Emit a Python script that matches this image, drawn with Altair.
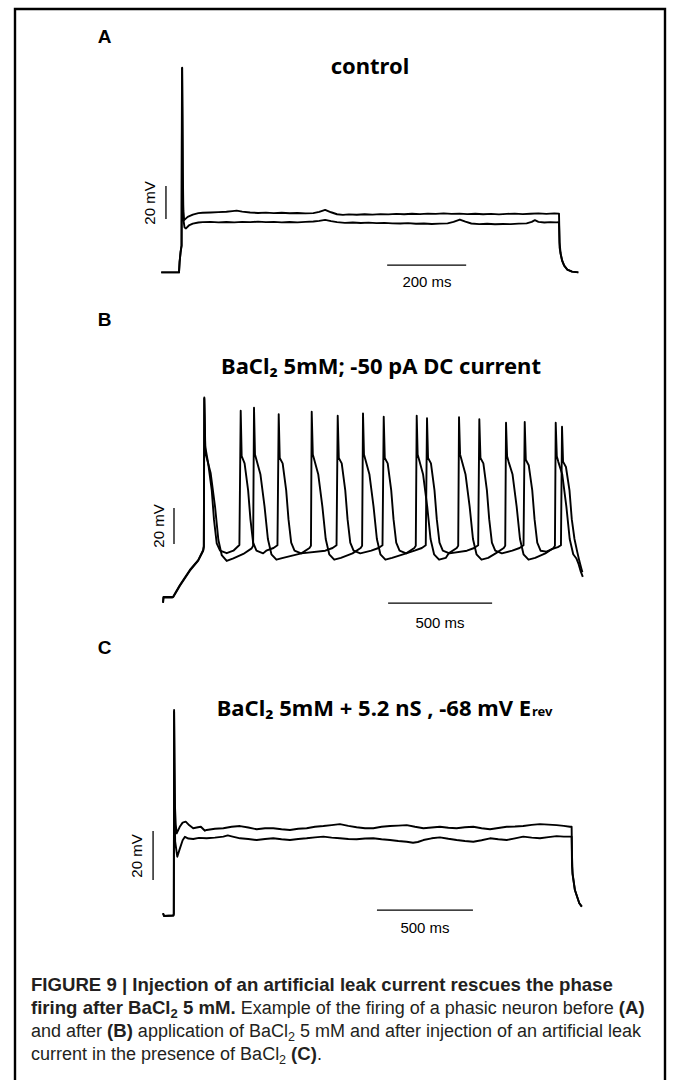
import altair as alt
import pandas as pd

# ---------------- Panel A (control): time in ms, membrane potential in mV ----------------
A1_t = [-45, 0, 1.5, 4, 6.5, 7.4, 8.1, 8.8, 9.8, 11, 13, 15, 22, 35, 49,
        60, 80, 100, 120, 135, 146, 160, 180, 200, 220, 240, 260, 280, 300, 320, 340, 355, 370, 385, 400,
        415, 430, 450, 470, 490, 510, 530, 550, 570, 590, 610, 630, 650, 670, 690, 710, 730, 750, 770, 790,
        810, 830, 850, 870, 890, 910, 930, 950, 962,
        963.5, 966, 970, 975, 983, 995, 1011]
A1_v = [-70.2, -70.2, -64, -58, -54, 10, 53.8, 30, -10, -33, -38.5, -38.1, -36.6, -35.2, -34.3,
        -34.1, -33.9, -33.7, -33.5, -33.1, -32.8, -33.4, -33.9, -34.2, -34.0, -34.3, -34.1, -34.4, -34.2, -34.5, -34.3, -33.6, -32.4, -33.8, -35.0,
        -35.4, -35.1, -35.3, -35.0, -35.2, -34.9, -35.1, -34.8, -35.0, -34.7, -34.9, -34.6, -34.8, -34.5, -34.8, -34.6, -34.9, -34.7, -35.0, -34.8,
        -35.1, -34.8, -34.6, -34.9, -34.7, -34.5, -34.8, -34.5, -34.6,
        -52, -58.5, -63, -66, -68.5, -69.8, -70.2]
A2_t = [-45, 0, 1.5, 4, 6.5, 7.0, 7.7, 8.4, 9.5, 11, 14, 17.7, 25, 35, 49,
        60, 80, 100, 120, 140, 160, 180, 200, 220, 240, 260, 280, 300, 320, 340, 355, 370, 385, 400, 420,
        440, 460, 480, 500, 520, 540, 560, 580, 600, 620, 640, 660, 680, 695, 711, 725, 740, 760, 780, 800,
        820, 840, 860, 880, 893, 901, 910, 925, 940, 955, 962,
        963.5, 966, 970, 975, 983, 995, 1011]
A2_v = [-70.2, -70.2, -64, -58, -54, 10, 53.5, 25, -20, -38, -43, -43.6, -41.8, -40.7, -40.0,
        -39.8, -39.6, -39.9, -39.7, -39.9, -39.6, -39.8, -39.5, -39.8, -39.6, -39.9, -39.7, -39.9, -39.6, -39.4, -39.0, -38.4, -39.2, -39.8, -40.2,
        -40.0, -40.3, -40.1, -40.4, -40.2, -40.5, -40.6, -40.4, -40.8, -40.6, -40.9, -40.7, -40.5, -39.6, -38.2, -39.5, -40.6, -41.0, -40.8, -41.1,
        -40.9, -41.0, -40.7, -40.5, -39.6, -38.6, -39.6, -40.0, -39.8, -39.9, -39.8,
        -55, -59, -63.3, -66.2, -68.6, -69.8, -70.2]
A_bar_t = [527, -33]
A_bar_t2 = [727, -33]
A_bar_v = [-65.8, -37.9]
A_bar_v2 = [-65.8, -17.9]

# ---------------- Panel B (BaCl2 5 mM, -50 pA DC) ----------------
B1_t = [-43, -41, 0, 6, 38, 86, 126, 150, 153, 155.3, 160, 174, 191, 202, 215, 231, 263, 295, 324,
        330.3, 335, 349, 366, 377, 390, 406, 438, 453, 488, 507,
        513.0, 518, 532, 549, 560, 573, 589, 621, 737, 772, 791,
        796.7, 802, 816, 833, 844, 857, 873, 905, 958, 993, 1012,
        1017.9, 1023, 1037, 1054, 1065, 1078, 1094, 1126, 1166, 1201, 1220,
        1226.0, 1231, 1245, 1262, 1273, 1286, 1302, 1334, 1418, 1453, 1472,
        1477.5, 1483, 1497, 1514, 1525, 1538, 1554, 1586, 1636, 1671, 1690,
        1695.8, 1701, 1715, 1732, 1743, 1756, 1772, 1800, 1830, 1855, 1870,
        1875.1, 1880, 1894, 1911, 1922, 1935, 1948, 1958, 1967, 1973]
B1_v = [-85.3, -82.2, -82.2, -82.0, -75.6, -67.2, -61.7, -56.1, -54.0, 28.7, 1.3, -8.0, -22.8, -39.4, -52.4, -56.5, -57.9, -56.5, -53.3,
        21.3, -4, -8, -23, -39, -52, -56.5, -58, -56.5, -55, -53.5,
        19.3, -5, -8, -23, -39, -52, -56.5, -58, -56.5, -55, -53.5,
        18.5, -5, -8, -23, -39, -52, -56.5, -58, -56.5, -55, -53.5,
        17.9, -5, -8, -23, -39, -52, -56.5, -58, -56.5, -55, -53.5,
        17.1, -5, -8, -23, -39, -52, -56.5, -58, -56.5, -55, -53.5,
        16.5, -5, -8, -23, -39, -52, -56.5, -58, -56.5, -55, -53.5,
        15.0, -6, -9, -23, -39, -52, -56.5, -57, -55.5, -54.5, -53.5,
        12.4, -7, -10, -23, -39, -50, -57, -62, -66, -68.5]
B2_t = [-43, -41, 0, 6, 38, 86, 126, 150, 153, 155.3, 160, 167, 186, 207, 223, 239, 263, 295, 343, 383, 390,
        394.3, 399, 406, 425, 445, 461, 478, 502, 534, 622, 661, 668,
        671.7, 677, 684, 703, 723, 739, 756, 780, 812, 868, 907, 914,
        918.3, 923, 930, 949, 969, 985, 1002, 1026, 1058, 1126, 1165, 1172,
        1176.5, 1181, 1188, 1207, 1227, 1243, 1260, 1284, 1316, 1330, 1369, 1376,
        1379.9, 1385, 1392, 1411, 1431, 1447, 1464, 1488, 1520, 1556, 1595, 1602,
        1605.9, 1611, 1618, 1637, 1657, 1673, 1690, 1714, 1746, 1795, 1834, 1841,
        1844.8, 1850, 1857, 1876, 1896, 1912, 1929, 1945, 1955, 1965, 1975]
B2_v = [-85.5, -82.5, -82.5, -82.3, -76, -67.6, -62, -56.5, -54.3, 28.0, -2, -5, -13.5, -32.1, -50.6, -58.9, -62.2, -60.7, -58.3, -55.2, -53.8,
        22.9, -3, -6, -14, -32, -50, -58.5, -61.5, -60.5, -58, -55, -53.8,
        20.7, -3, -6, -14, -32, -50, -58.5, -61.5, -60.5, -58, -55, -53.8,
        19.8, -3, -6, -14, -32, -50, -58.5, -61.5, -60.5, -58, -55, -53.8,
        18.5, -3, -6, -14, -32, -50, -58.5, -61.5, -60.5, -58, -55, -53.8,
        17.6, -3, -6, -14, -32, -50, -58.5, -61.5, -60.5, -58, -55, -53.8,
        14.6, -4, -7, -14, -32, -50, -58.5, -61.5, -60.5, -58, -55, -53.8,
        14.6, -4, -7, -14, -32, -50, -58.5, -61, -64, -68, -71]
B_bar_t = [1039, 9.6]
B_bar_t2 = [1539, 9.6]
B_bar_v = [-85.6, -52.8]
B_bar_v2 = [-85.6, -32.8]

# ---------------- Panel C (BaCl2 + 5.2 nS leak, -68 mV Erev) ----------------
C1_t = [-57, -52, -3, -1, 0, 0.5, 3, 5.2, 9, 14, 30, 45, 61, 80, 100, 125, 140, 161,
        170, 213, 257, 300, 344, 387, 431, 474, 517, 560, 604, 647, 691, 734, 778, 821, 864, 908, 951, 995,
        1038, 1081, 1125, 1168, 1212, 1255, 1299, 1342, 1385, 1429, 1472, 1515, 1559, 1602, 1646, 1689, 1733,
        1776, 1819, 1863, 1906, 1950, 1993, 2030, 2062, 2071,
        2073, 2076, 2088, 2111, 2124]
C1_v = [-69.3, -70.4, -70.2, -69.5, -20, 13.7, -10, -25.8, -33, -36.7, -34, -32.3, -31.9, -33.4, -34.6, -34.2, -34.0, -35.6,
        -35.3, -34.8, -34.6, -34.0, -33.7, -34.3, -35.0, -34.6, -34.6, -35.0, -35.3, -34.8, -34.6, -34.0, -33.7, -33.3, -32.9, -33.6, -34.2, -34.6,
        -34.6, -34.0, -33.7, -33.5, -33.3, -34.0, -34.6, -34.3, -34.0, -34.4, -34.6, -34.2, -34.0, -34.6, -35.0, -34.5, -34.0,
        -33.9, -33.7, -33.2, -32.9, -33.1, -33.3, -33.6, -34.0, -34.0,
        -46, -53, -59.8, -65.2, -66.6]
C2_t = [-57, -52, -3, -1, 0, 0.5, 3, 6, 17, 30, 45, 57, 75, 100, 130,
        170, 213, 257, 280, 300, 344, 387, 431, 474, 517, 560, 604, 647, 691, 734, 778, 821, 864, 908, 951, 995,
        1038, 1081, 1125, 1168, 1212, 1245, 1270, 1299, 1342, 1385, 1429, 1472, 1515, 1559, 1602, 1646, 1689, 1733,
        1776, 1819, 1863, 1906, 1950, 1993, 2030, 2062, 2071,
        2073, 2076, 2088, 2111, 2124]
C2_v = [-69.3, -70.4, -70.2, -69.5, -20, 13.0, -20, -40, -46.2, -43, -39.5, -38.1, -38.8, -39.0, -38.5,
        -38.7, -38.4, -38.0, -37.5, -37.9, -38.7, -39.0, -39.4, -39.0, -38.7, -39.1, -39.4, -39.0, -38.7, -38.3, -38.0, -38.4, -38.7, -39.0, -39.1, -38.8,
        -38.7, -39.1, -39.4, -39.8, -40.1, -40.5, -40.2, -39.4, -38.7, -38.3, -38.9, -39.4, -39.8, -40.1, -39.5, -38.7, -39.1, -39.4,
        -38.7, -38.0, -38.4, -38.7, -38.2, -37.8, -38.0, -38.0, -38.0,
        -50, -53.5, -59.8, -65.2, -66.6]
C_bar_t = [1057, -109]
C_bar_t2 = [1557, -109]
C_bar_v = [-68.0, -55.7]
C_bar_v2 = [-68.0, -35.7]

# ---------------- Text ----------------
PANEL_LABELS = ["A", "B", "C"]
TITLE_A = "control"
TITLE_B = "BaCl\u2082 5mM; -50 pA DC current"
TITLE_C = "BaCl\u2082 5mM + 5.2 nS , -68 mV E"
TITLE_C_SUB = "rev"
SCALE_V = "20 mV"
SCALE_T = ["200 ms", "500 ms", "500 ms"]
CAPTION = [
    [("FIGURE 9 | Injection of an artificial leak current rescues the phase", "b")],
    [("firing after BaCl", "b"), ("2", "bs"), (" 5 mM.", "b"),
     (" Example of the firing of a phasic neuron before ", "r"), ("(A)", "b")],
    [("and after ", "r"), ("(B)", "b"), (" application of BaCl", "r"), ("2", "rs"),
     (" 5 mM and after injection of an artificial leak", "r")],
    [("current in the presence of BaCl", "r"), ("2", "rs"), (" ", "r"), ("(C)", "b"), (".", "r")],
]

# ---------------- helpers ----------------
def traces_df(pairs):
    rows = []
    for name, ts, vs in pairs:
        d = pd.DataFrame({"t": ts, "v": vs})
        d["s"] = name
        d["i"] = range(len(d))
        rows.append(d)
    return pd.concat(rows, ignore_index=True)


def panel(pairs, bars, xs, ys):
    df = traces_df(pairs)
    lines = alt.Chart(df).mark_line(color="black", strokeWidth=1.9, strokeJoin="round").encode(
        x=alt.X("t:Q", scale=xs, axis=None),
        y=alt.Y("v:Q", scale=ys, axis=None),
        detail="s:N",
        order="i:Q",
    )
    bt, bt2, bv, bv2 = bars
    bdf = pd.DataFrame({"t": bt, "t2": bt2, "v": bv, "v2": bv2})
    rules = alt.Chart(bdf).mark_rule(color="black", strokeWidth=1.3).encode(
        x=alt.X("t:Q", scale=xs, axis=None),
        x2="t2:Q",
        y=alt.Y("v:Q", scale=ys, axis=None),
        y2="v2:Q",
    )
    return [lines, rules]


one = pd.DataFrame({"a": [0]})


def label(text, x, y, size, weight="normal", font="Liberation Sans", angle=0, align="center",
          baseline="middle"):
    kw = dict(text=text, fontSize=size, fontWeight=weight, font=font, align=align,
              baseline=baseline, color="black")
    if angle:
        kw["angle"] = angle
    return alt.Chart(one).mark_text(**kw).encode(x=alt.value(x), y=alt.value(y))


A_x = alt.Scale(domain=[-50, 1050], range=[159.25, 593.75])
A_y = alt.Scale(domain=[-80, 60], range=[288.5, 57.5])
B_x = alt.Scale(domain=[-50, 2000], range=[161.6, 588.0])
B_y = alt.Scale(domain=[-90, 40], range=[611, 377])
C_x = alt.Scale(domain=[-150, 2200], range=[145.2, 596.4])
C_y = alt.Scale(domain=[-80, 20], range=[939.5, 694.5])

layers = []
frame = alt.Chart(one).mark_rect(fillOpacity=0, stroke="black", strokeWidth=2.4).encode(
    x=alt.value(15), x2=alt.value(665), y=alt.value(9), y2=alt.value(1100))
layers.append(frame)

layers += panel([("a1", A1_t, A1_v), ("a2", A2_t, A2_v)], (A_bar_t, A_bar_t2, A_bar_v, A_bar_v2), A_x, A_y)
layers += panel([("b1", B1_t, B1_v), ("b2", B2_t, B2_v)], (B_bar_t, B_bar_t2, B_bar_v, B_bar_v2), B_x, B_y)
layers += panel([("c1", C1_t, C1_v), ("c2", C2_t, C2_v)], (C_bar_t, C_bar_t2, C_bar_v, C_bar_v2), C_x, C_y)

# panel letters
for lab, yy in zip(PANEL_LABELS, [37, 320, 648]):
    layers.append(label(lab, 104.5, yy, 19, "bold"))

# titles
layers.append(label(TITLE_A, 370, 74, 22, "bold", font="Noto Sans", baseline="alphabetic"))
layers.append(label(TITLE_B, 381, 374, 22, "bold", font="Noto Sans", baseline="alphabetic"))
layers.append(label(TITLE_C, 531, 716, 22, "bold", font="Noto Sans", align="right", baseline="alphabetic"))
layers.append(label(TITLE_C_SUB, 532, 716, 13, "bold", font="Noto Sans", align="left", baseline="alphabetic"))

# scale bar labels
layers.append(label(SCALE_V, 150, 203, 15, angle=270))
layers.append(label(SCALE_V, 159, 526, 15, angle=270))
layers.append(label(SCALE_V, 137, 856, 15, angle=270))
layers.append(label(SCALE_T[0], 427, 282, 15))
layers.append(label(SCALE_T[1], 440, 623, 15))
layers.append(label(SCALE_T[2], 425, 928, 15))

# caption: lay out mixed bold / regular runs with Arial (Liberation Sans) advance widths
REG = {" ": 278, ".": 278, ",": 278, "(": 333, ")": 333, "|": 260, "-": 333,
       "A": 667, "B": 667, "C": 722, "E": 667, "F": 611, "G": 778, "I": 278, "M": 833, "R": 722, "U": 722,
       "a": 556, "b": 556, "c": 500, "d": 556, "e": 556, "f": 278, "g": 556, "h": 556, "i": 222, "j": 222,
       "k": 500, "l": 222, "m": 833, "n": 556, "o": 556, "p": 556, "r": 333, "s": 500, "t": 278, "u": 556,
       "v": 500, "x": 500, "y": 500}
BOLD = {" ": 278, ".": 278, "(": 333, ")": 333, "|": 280,
        "A": 722, "B": 722, "C": 722, "E": 667, "F": 611, "G": 778, "I": 278, "M": 833, "R": 722, "U": 722,
        "a": 556, "c": 556, "e": 556, "f": 333, "g": 611, "h": 611, "i": 278, "j": 278, "k": 556, "l": 278,
        "m": 889, "n": 611, "o": 611, "p": 611, "r": 389, "s": 556, "t": 333, "u": 611}
CAP_SIZE_B = 18.6
CAP_SIZE_R = 18.0
CAP_X0 = 31
CAP_Y = [991, 1014, 1037, 1060]
seg_rows = []
for line, y0 in zip(CAPTION, CAP_Y):
    x = CAP_X0
    for txt, style in line:
        bold = style.startswith("b")
        sub = style.endswith("s")
        size = (CAP_SIZE_B if bold else CAP_SIZE_R) * (0.7 if sub else 1.0)
        table = BOLD if bold else REG
        adv = lambda s: sum(table.get(ch, 556) for ch in s) * size / 1000.0
        core = txt.strip(" ")
        lead = txt[: len(txt) - len(txt.lstrip(" "))]
        if core:
            seg_rows.append({"x": x + adv(lead), "y": y0 + (4 if sub else 0), "txt": core,
                             "fs": size, "bold": bold})
        x += adv(txt)
segs = pd.DataFrame(seg_rows)
for bold in (True, False):
    layers.append(
        alt.Chart(segs[segs["bold"] == bold]).mark_text(
            align="left", baseline="alphabetic", font="Liberation Sans",
            fontWeight="bold" if bold else "normal", color="#231f20",
        ).encode(
            x=alt.X("x:Q", scale=None),
            y=alt.Y("y:Q", scale=None),
            text="txt:N",
            size=alt.Size("fs:Q", scale=None, legend=None),
        )
    )

chart = alt.layer(*layers).resolve_scale(x="independent", y="independent", size="independent").properties(
    width=673, height=1080, autosize=alt.AutoSizeParams(type="none"), padding=0,
    background="white",
).configure_view(strokeWidth=0)

chart.save("out.html", embed_options={"renderer": "svg", "actions": False})
